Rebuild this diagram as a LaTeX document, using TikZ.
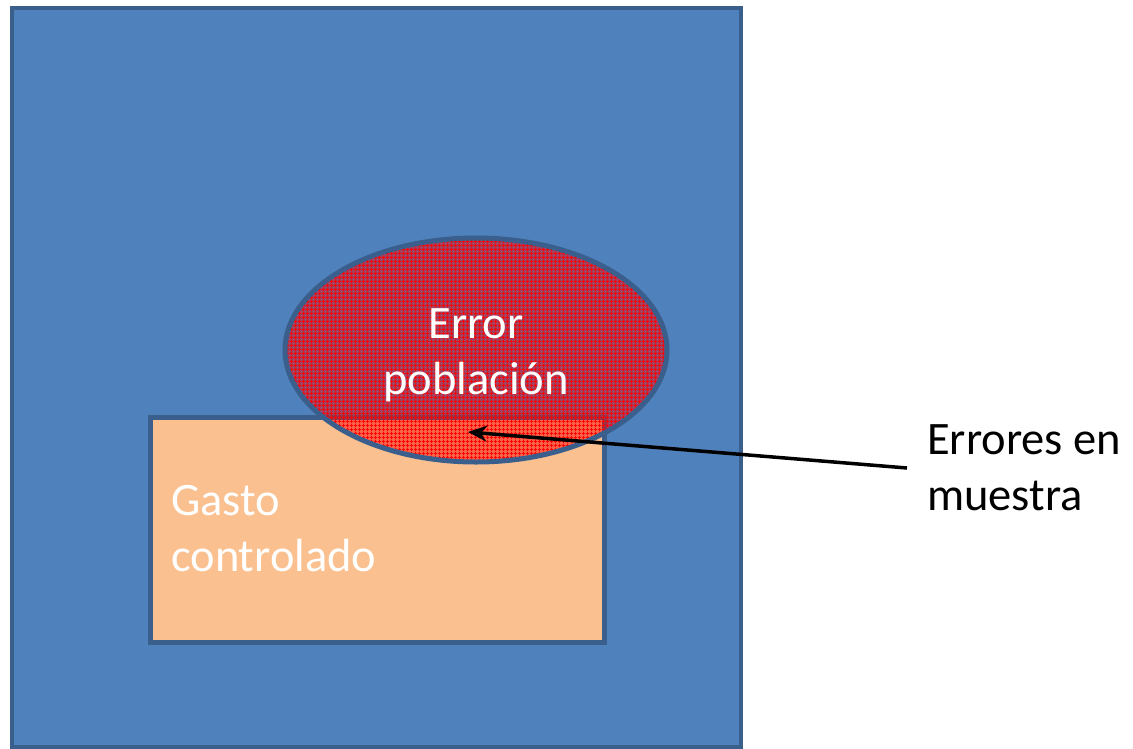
\documentclass[tikz,border=0pt]{standalone}
\usepackage{fontspec}
\setmainfont{Carlito}
\usetikzlibrary{arrows.meta,patterns.meta}
\definecolor{areablue}{HTML}{4F81BD}
\definecolor{edgeblue}{HTML}{3A5F8C}
\definecolor{gastoorange}{HTML}{FAC090}
\begin{document}
\begin{tikzpicture}[x=1pt,y=-1pt,
		outline/.style={draw=edgeblue,line width=5pt},
		bigtext/.style={font=\fontsize{46.5}{56}\selectfont,inner sep=0pt}]
	\useasboundingbox (0,0) rectangle (1133,748);
	\filldraw[fill=areablue,draw=edgeblue,line width=3.5pt] (12,8) rectangle (741,747);
	\filldraw[fill=gastoorange,outline] (150,417) rectangle (604,642);
	\fill[red,fill opacity=.5] (476,350) ellipse (191 and 112);
	\fill[pattern={Hatch[distance=4pt,line width=.9pt]},pattern color=red] (476,350) ellipse (191 and 112);
	\draw[outline] (476,350) ellipse (191 and 112);
	\node[bigtext,white,align=center] (pop) at (476,355) {Error\\población};
	\node[bigtext,white,align=left,anchor=west] (gasto) at (171,529) {Gasto\\controlado};
	\node[bigtext,align=left,anchor=west,inner xsep=20pt] (muestra) at (907,468) {Errores en\\muestra};
	\coordinate (tip) at (468,432);
	\draw[line width=3.5pt,-{Stealth[length=19pt,width=16pt]}] (muestra.west) -- (tip);
\end{tikzpicture}
\end{document}
